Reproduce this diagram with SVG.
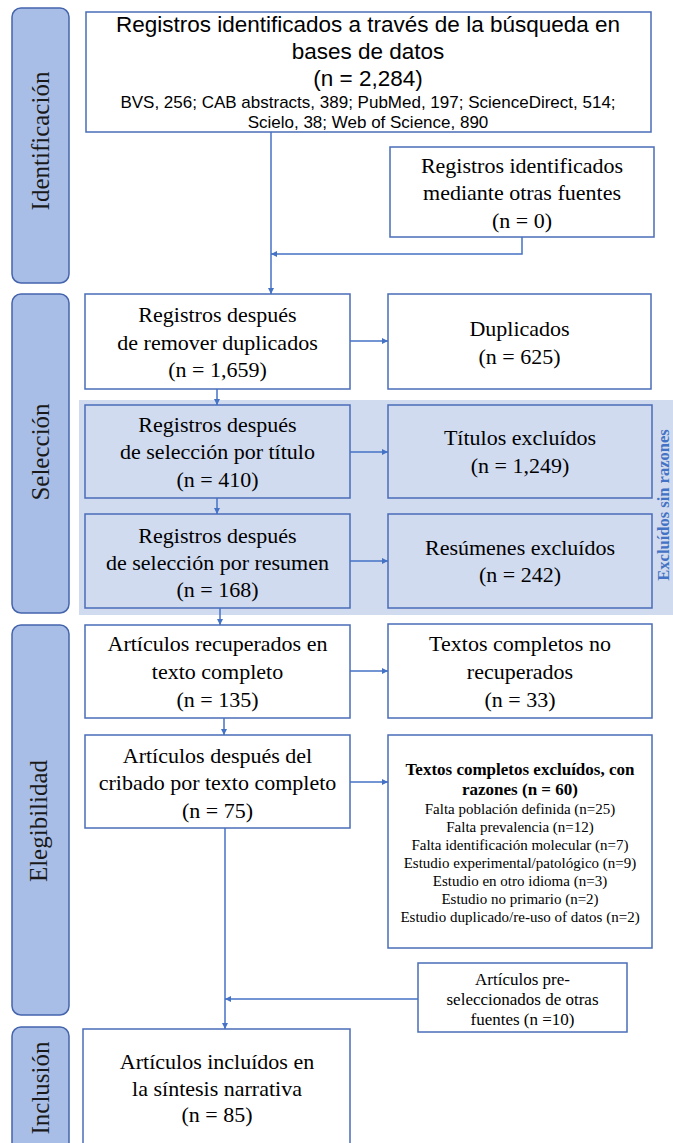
<svg xmlns="http://www.w3.org/2000/svg" width="673" height="1143" viewBox="0 0 673 1143">
<defs>
<style>
.side{fill:#a9bee6;stroke:#4464ad;stroke-width:1.5}
.box{fill:#fff;stroke:#4a6cb8;stroke-width:1.5}
.sbox{fill:none;stroke:#4a6cb8;stroke-width:1.5}
.lab{font-family:"Liberation Serif","Times New Roman",serif;font-size:25px;fill:#1a1a1a;text-anchor:middle}
.t{font-family:"Liberation Serif","Times New Roman",serif;font-size:22px;fill:#000;text-anchor:middle}
.a{font-family:"Liberation Sans",Arial,sans-serif;font-size:22.5px;fill:#000;text-anchor:middle}
.as{font-family:"Liberation Sans",Arial,sans-serif;font-size:17px;fill:#000;text-anchor:middle}
.tb{font-family:"Liberation Serif","Times New Roman",serif;font-size:17px;font-weight:bold;fill:#000;text-anchor:middle}
.ts{font-family:"Liberation Serif","Times New Roman",serif;font-size:15px;fill:#000;text-anchor:middle}
.tm{font-family:"Liberation Serif","Times New Roman",serif;font-size:17px;fill:#000;text-anchor:middle}
.ex{font-family:"Liberation Serif","Times New Roman",serif;font-size:16.5px;font-weight:bold;fill:#4472c4;text-anchor:middle}
.c{fill:none;stroke:#4472c4;stroke-width:1.5}
</style>
<marker id="ah" viewBox="0 0 10 10" refX="10" refY="5" markerWidth="6" markerHeight="6" markerUnits="userSpaceOnUse" orient="auto">
<path d="M0,0 L10,5 L0,10 z" fill="#4472c4"/>
</marker>
</defs>

<g id="phases">
<rect class="side" x="12" y="8" width="57" height="275" rx="9"/>
<text class="lab" transform="translate(48.5,141) rotate(-90)">Identificación</text>
<rect class="side" x="12" y="294" width="57" height="319" rx="9"/>
<text class="lab" transform="translate(48.5,452) rotate(-90)">Selección</text>
<rect class="side" x="12" y="625" width="57" height="390" rx="9"/>
<text class="lab" transform="translate(47,821) rotate(-90)">Elegibilidad</text>
<rect class="side" x="12" y="1027" width="57" height="130" rx="9"/>
<text class="lab" transform="translate(48.5,1088) rotate(-90)">Inclusión</text>
</g>

<g id="screening-band">
<rect x="79" y="400" width="600" height="215" fill="#d0dbef"/>
<text class="ex" transform="translate(668.5,505) rotate(-90)">Excluídos sin razones</text>
</g>

<g id="n-db">
<rect class="box" x="86" y="12" width="565" height="120"/>
<text class="a" x="368" y="32">Registros identificados a través de la búsqueda en</text>
<text class="a" x="368" y="59">bases de datos</text>
<text class="a" x="368" y="86">(n = 2,284)</text>
<text class="as" x="368" y="108">BVS, 256; CAB abstracts, 389; PubMed, 197; ScienceDirect, 514;</text>
<text class="as" x="368" y="128">Scielo, 38; Web of Science, 890</text>
</g>

<g id="n-other">
<rect class="box" x="390" y="147" width="264" height="90"/>
<text class="t" x="522" y="173">Registros identificados</text>
<text class="t" x="522" y="200">mediante otras fuentes</text>
<text class="t" x="522" y="228">(n = 0)</text>
</g>

<g id="n-dedup">
<rect class="box" x="85" y="294" width="265" height="95"/>
<text class="t" x="217.5" y="322">Registros después</text>
<text class="t" x="217.5" y="350">de remover duplicados</text>
<text class="t" x="217.5" y="377">(n = 1,659)</text>
</g>

<g id="n-dup">
<rect class="box" x="388" y="294" width="263" height="95"/>
<text class="t" x="519.5" y="336">Duplicados</text>
<text class="t" x="519.5" y="364">(n = 625)</text>
</g>

<g id="n-title">
<rect class="sbox" x="85" y="405" width="265" height="93"/>
<text class="t" x="217.5" y="432">Registros después</text>
<text class="t" x="217.5" y="459">de selección por título</text>
<text class="t" x="217.5" y="487">(n = 410)</text>
</g>

<g id="n-title-ex">
<rect class="sbox" x="388" y="405" width="264" height="93"/>
<text class="t" x="520" y="445">Títulos excluídos</text>
<text class="t" x="520" y="473">(n = 1,249)</text>
</g>

<g id="n-abs">
<rect class="sbox" x="85" y="514" width="265" height="94"/>
<text class="t" x="217.5" y="543">Registros después</text>
<text class="t" x="217.5" y="570">de selección por resumen</text>
<text class="t" x="217.5" y="597">(n = 168)</text>
</g>

<g id="n-abs-ex">
<rect class="sbox" x="388" y="514" width="264" height="94"/>
<text class="t" x="520" y="555">Resúmenes excluídos</text>
<text class="t" x="520" y="582">(n = 242)</text>
</g>

<g id="n-full">
<rect class="box" x="85" y="625" width="265" height="93"/>
<text class="t" x="217.5" y="651">Artículos recuperados en</text>
<text class="t" x="217.5" y="679">texto completo</text>
<text class="t" x="217.5" y="707">(n = 135)</text>
</g>

<g id="n-full-nr">
<rect class="box" x="388" y="624" width="264" height="94"/>
<text class="t" x="520" y="651">Textos completos no</text>
<text class="t" x="520" y="679">recuperados</text>
<text class="t" x="520" y="707">(n = 33)</text>
</g>

<g id="n-crib">
<rect class="box" x="85" y="735" width="265" height="93"/>
<text class="t" x="217.5" y="763">Artículos después del</text>
<text class="t" x="217.5" y="790">cribado por texto completo</text>
<text class="t" x="217.5" y="818">(n = 75)</text>
</g>

<g id="n-full-ex">
<rect class="box" x="388" y="735" width="264" height="213"/>
<text class="tb" x="520" y="775">Textos completos excluídos, con</text>
<text class="tb" x="520" y="795">razones (n = 60)</text>
<text class="ts" x="520" y="814">Falta población definida (n=25)</text>
<text class="ts" x="520" y="832">Falta prevalencia (n=12)</text>
<text class="ts" x="520" y="850">Falta identificación molecular  (n=7)</text>
<text class="ts" x="520" y="868">Estudio experimental/patológico (n=9)</text>
<text class="ts" x="520" y="886">Estudio en otro idioma (n=3)</text>
<text class="ts" x="520" y="904">Estudio no primario (n=2)</text>
<text class="ts" x="520" y="922">Estudio duplicado/re-uso of datos (n=2)</text>
</g>

<g id="n-pre">
<rect class="box" x="418" y="963" width="209" height="69"/>
<text class="tm" x="522.5" y="985">Artículos pre-</text>
<text class="tm" x="522.5" y="1005">seleccionados de otras</text>
<text class="tm" x="522.5" y="1025">fuentes (n =10)</text>
</g>

<g id="n-incl">
<rect class="box" x="83" y="1029" width="267" height="130"/>
<text class="t" x="217" y="1069">Artículos incluídos en</text>
<text class="t" x="217" y="1096">la síntesis narrativa</text>
<text class="t" x="217" y="1122">(n = 85)</text>
</g>

<g id="connectors">
<path class="c" d="M271,132 V294" marker-end="url(#ah)"/>
<path class="c" d="M522,237 V254 H271" marker-end="url(#ah)"/>
<path class="c" d="M350,341 H388" marker-end="url(#ah)"/>
<path class="c" d="M217,389 V405" marker-end="url(#ah)"/>
<path class="c" d="M350,452 H388" marker-end="url(#ah)"/>
<path class="c" d="M217,498 V514" marker-end="url(#ah)"/>
<path class="c" d="M350,561 H388" marker-end="url(#ah)"/>
<path class="c" d="M220,608 V625" marker-end="url(#ah)"/>
<path class="c" d="M350,671 H388" marker-end="url(#ah)"/>
<path class="c" d="M224,718 V735" marker-end="url(#ah)"/>
<path class="c" d="M350,782 H388" marker-end="url(#ah)"/>
<path class="c" d="M225,828 V1029" marker-end="url(#ah)"/>
<path class="c" d="M418,999 H225" marker-end="url(#ah)"/>
</g>
</svg>
